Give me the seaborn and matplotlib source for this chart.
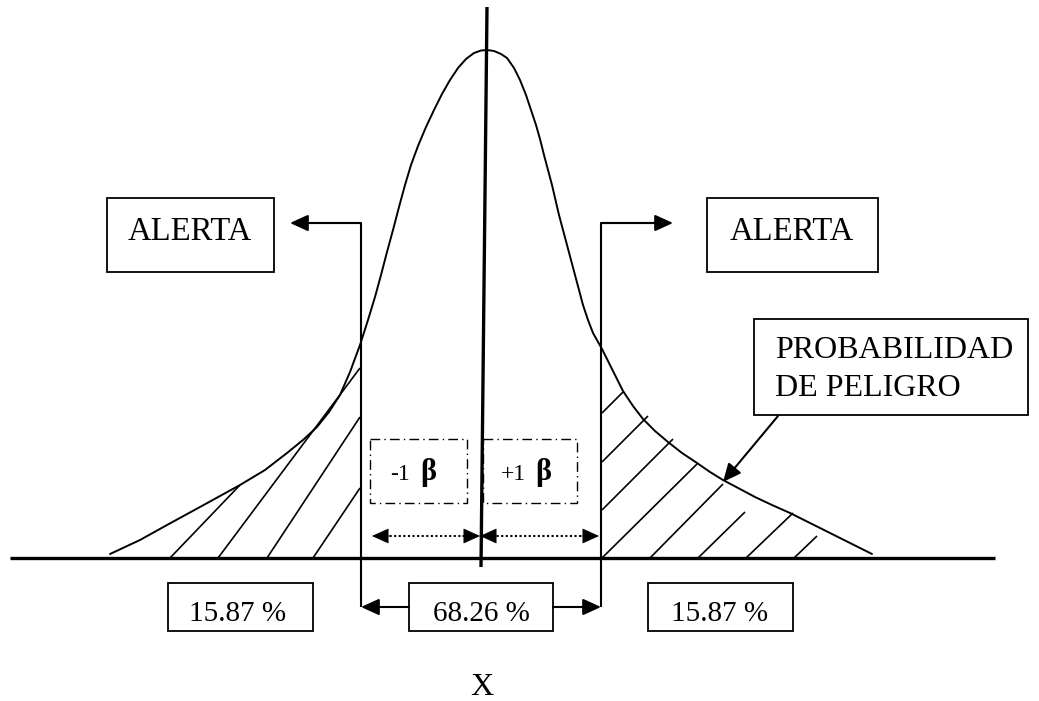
import matplotlib
matplotlib.use("Agg")
import matplotlib.pyplot as plt
from matplotlib.patches import Rectangle
import seaborn as sns
import pandas as pd

# ---- data (in picture pixel units) ----
curve_x = [110, 140, 167, 200, 240, 265, 287, 303, 317, 329, 340, 350, 360, 368, 375,
           381, 387, 393, 399, 405, 411, 418, 426, 434, 442, 450, 458, 466, 474, 481,
           487,
           494, 501, 507, 514, 520, 526, 531, 536, 540, 544, 548, 552, 555.5, 559,
           563, 567, 571, 575, 579, 583, 588, 593, 597.5, 602, 607, 612, 618, 623,
           633, 643, 655, 668, 682, 697, 710, 723, 740, 755, 772, 790, 810, 830, 850,
           872]
curve_y = [554, 540, 525, 507, 485, 470, 453, 440, 427, 412, 395, 372, 345, 320, 297,
           275, 252, 230, 207, 185, 165, 146, 127, 110, 94, 80, 68, 59, 53, 50.5,
           50,
           51, 54, 58, 68, 80, 95, 110, 125, 139, 155, 170, 185, 200, 215,
           230, 245, 260, 275, 290, 305, 320, 333, 341, 349, 359, 369, 381, 391,
           406, 419, 431, 442, 453, 463, 472, 480, 489, 497, 505, 513, 523, 533, 543,
           554]

hatch_left = [((170, 558), (240, 485)), ((218, 558), (360, 368)),
              ((267, 558), (360, 417)), ((313, 558), (360, 488))]
hatch_right = [((602, 413), (623, 392)), ((602, 462), (648, 416)),
               ((602, 510), (673, 439)), ((602, 558), (697, 464)),
               ((650, 558), (723, 484)), ((698, 558), (745, 512)),
               ((746, 558), (793, 513)), ((794, 558), (817, 536))]

alert_label = "ALERTA"
danger_lines = ["PROBABILIDAD", "DE PELIGRO"]
tail_label = "15.87 %"
center_label = "68.26 %"
minus_label, plus_label, beta = "-1", "+1", "β"
axis_label = "X"

# ---- figure ----
sns.set_theme(style="white")
plt.rcParams['font.family'] = ['Liberation Serif', 'DejaVu Serif']

fig = plt.figure(figsize=(10.39, 7.01), dpi=100)
ax = fig.add_axes([0, 0, 1, 1])
ax.set_facecolor("white")

df = pd.DataFrame({"x": curve_x, "y": curve_y})
sns.lineplot(data=df, x="x", y="y", ax=ax, color="black", lw=1.4,
             estimator=None, sort=False)

K = "black"

def seg(p, q, lw=1.3, ls="-"):
    ax.plot([p[0], q[0]], [p[1], q[1]], color=K, lw=lw, ls=ls,
            solid_capstyle="butt")

def head(tail, tip, lw=1.5):
    ax.annotate("", xy=tip, xytext=tail,
                arrowprops=dict(arrowstyle="-|>,head_length=1.1,head_width=0.5",
                                mutation_scale=10, color=K, lw=lw,
                                shrinkA=0, shrinkB=0))

# hatching
for p, q in hatch_left + hatch_right:
    seg(p, q, lw=1.2)

# baseline and central axis
seg((10, 558), (995, 558), lw=2.4)
seg((487, 7), (481, 567), lw=2.4)

# brackets with arrows
seg((361, 607), (361, 223), lw=1.5)
seg((601, 607), (601, 223), lw=1.5)
seg((361, 223), (300, 223), lw=1.5)
seg((601, 223), (662, 223), lw=1.5)
head((361, 223), (290, 223))
head((601, 223), (673, 223))
head((409, 607), (361, 607))
head((553, 607), (601, 607))

# dotted double arrows
seg((385, 536), (470, 536), lw=1.5, ls=(0, (1, 1.2)))
seg((492, 536), (588, 536), lw=1.5, ls=(0, (1, 1.2)))
head((390, 536), (372, 536), lw=0.5)
head((462, 536), (480, 536), lw=0.5)
head((498, 536), (480, 536), lw=0.5)
head((581, 536), (599, 536), lw=0.5)

# leader arrow from danger box
head((778, 416), (723, 482), lw=1.5)

# boxes
def box(x0, y0, x1, y1, ls="-", lw=1.3):
    ax.add_patch(Rectangle((x0, y0), x1 - x0, y1 - y0, fill=False,
                           edgecolor=K, lw=lw, ls=ls, zorder=3))

box(107, 198, 274, 272)
box(707, 198, 878, 272)
box(754, 319, 1028, 415)
box(168, 583, 313, 631)
box(409, 583, 553, 631)
box(648, 583, 793, 631)
box(370, 439, 467, 503, ls=(0, (7, 3, 1, 3)), lw=1.0)
box(483, 439, 577, 503, ls=(0, (7, 3, 1, 3)), lw=1.0)

T = dict(color=K, va="baseline")
ax.text(190, 240, alert_label, fontsize=23.5, ha="center", **T)
ax.text(792, 240, alert_label, fontsize=23.5, ha="center", **T)
ax.text(775, 358, danger_lines[0], fontsize=23, ha="left", **T)
ax.text(775, 396, danger_lines[1], fontsize=23, ha="left", **T)
ax.text(238, 621, tail_label, fontsize=21, ha="center", **T)
ax.text(481, 621, center_label, fontsize=21, ha="center", **T)
ax.text(720, 621, tail_label, fontsize=21, ha="center", **T)
ax.text(400, 480, minus_label, fontsize=17, ha="center", **T)
ax.text(428, 480, beta, fontsize=22, fontweight="bold", ha="center", **T)
ax.text(513, 480, plus_label, fontsize=17, ha="center", **T)
ax.text(543, 480, beta, fontsize=22, fontweight="bold", ha="center", **T)
ax.text(482, 695, axis_label, fontsize=23, ha="center", **T)

ax.set_xlim(0, 1039)
ax.set_ylim(701, 0)
ax.axis("off")
fig.savefig("out.png", dpi=100, facecolor="white")
